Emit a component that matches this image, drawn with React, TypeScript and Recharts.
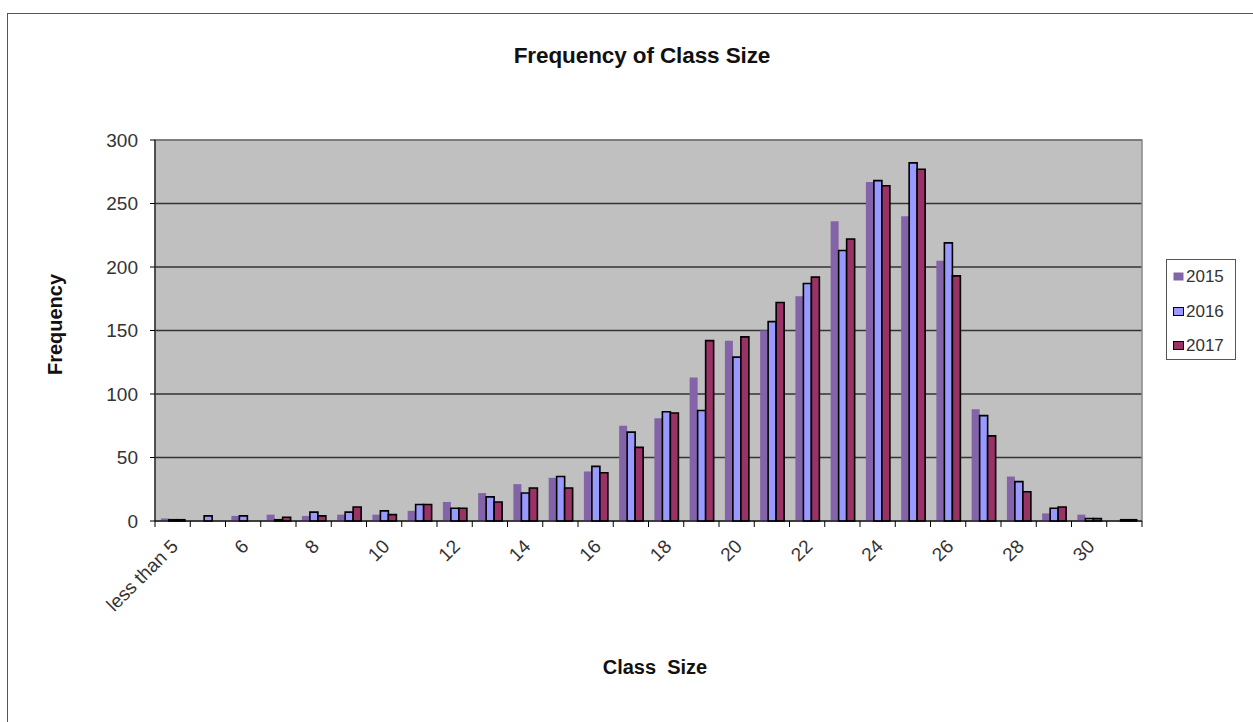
import React from 'react';
import { BarChart, Bar, XAxis, YAxis, CartesianGrid } from 'recharts';

const categories = [
  'less than 5', '5', '6', '7', '8', '9', '10', '11', '12', '13', '14', '15', '16', '17',
  '18', '19', '20', '21', '22', '23', '24', '25', '26', '27', '28', '29', '30', '31',
];
const values2015 = [2, 0, 4, 5, 4, 5, 5, 8, 15, 22, 29, 34, 39, 75, 81, 113, 142, 150, 177, 236, 267, 240, 205, 88, 35, 6, 5, 0];
const values2016 = [1, 4, 4, 1, 7, 7, 8, 13, 10, 19, 22, 35, 43, 70, 86, 87, 129, 157, 187, 213, 268, 282, 219, 83, 31, 10, 2, 1];
const values2017 = [1, 0, 0, 3, 4, 11, 5, 13, 10, 15, 26, 26, 38, 58, 85, 142, 145, 172, 192, 222, 264, 277, 193, 67, 23, 11, 2, 1];
const yTicks = [0, 50, 100, 150, 200, 250, 300];

const seriesColors = { s2015: '#8364a8', s2016: '#9999ff', s2017: '#993366' };

const data = categories.map((c, i) => ({
  name: c,
  s2015: values2015[i],
  s2016: values2016[i],
  s2017: values2017[i],
}));

const PLOT_LEFT = 155;
const PLOT_RIGHT = 1142;
const PLOT_TOP = 140;
const PLOT_BOTTOM = 521;
const BAND = (PLOT_RIGHT - PLOT_LEFT) / categories.length;
const FONT = 'Liberation Sans, Arial, sans-serif';

// Excel-style category axis: ticks between groups, labels on every other group
function CategoryTick(props: any) {
  const { x, y, index, payload } = props;
  const left = x - BAND / 2;
  return (
    <g>
      <line x1={left} y1={y - 8} x2={left} y2={y - 2} stroke="#000" />
      {index === categories.length - 1 && (
        <line x1={left + BAND} y1={y - 8} x2={left + BAND} y2={y - 2} stroke="#000" />
      )}
      {index % 2 === 0 && (
        <text
          x={x + 3}
          y={y + 15}
          transform={`rotate(-45, ${x + 3}, ${y + 15})`}
          textAnchor="end"
          fontSize={19}
          fontFamily={FONT}
          fill="#333"
          dominantBaseline="middle"
        >
          {payload.value}
        </text>
      )}
    </g>
  );
}

function LegendBox() {
  const items = [
    { key: '2015', color: seriesColors.s2015, stroke: 'none' },
    { key: '2016', color: seriesColors.s2016, stroke: '#000' },
    { key: '2017', color: seriesColors.s2017, stroke: '#000' },
  ];
  return (
    <div
      style={{
        position: 'absolute',
        left: 1166,
        top: 259,
        width: 70,
        height: 101,
        border: '1px solid #555',
        boxSizing: 'border-box',
        background: '#fff',
        fontFamily: FONT,
      }}
    >
      {items.map((it, i) => (
        <div
          key={it.key}
          style={{ position: 'absolute', left: 0, top: 6 + i * 34.5, height: 22, display: 'flex', alignItems: 'center' }}
        >
          <svg width={12} height={10} style={{ marginLeft: 6 }}>
            <rect x={0.5} y={0.5} width={10} height={8} fill={it.color} stroke={it.stroke} />
          </svg>
          <span style={{ fontSize: 17, color: '#333', marginLeft: 1 }}>{it.key}</span>
        </div>
      ))}
    </div>
  );
}

export default function App() {
  return (
    <div
      style={{
        position: 'fixed',
        left: 0,
        top: 0,
        width: 1253,
        height: 722,
        overflow: 'hidden',
        background: '#fff',
      }}
    >
      <div
        style={{
          position: 'absolute',
          left: 7,
          top: 13,
          width: 1300,
          height: 800,
          border: '1px solid #555',
        }}
      />
      <div
        style={{
          position: 'absolute',
          left: 642 - 300,
          width: 600,
          top: 43,
          textAlign: 'center',
          fontFamily: FONT,
          fontWeight: 'bold',
          fontSize: 22.5,
          letterSpacing: -0.1,
          color: '#111',
        }}
      >
        Frequency of Class Size
      </div>
      <div
        style={{
          position: 'absolute',
          left: 655 - 100,
          width: 200,
          top: 656,
          textAlign: 'center',
          fontFamily: FONT,
          fontWeight: 'bold',
          fontSize: 20,
          color: '#111',
          whiteSpace: 'pre',
        }}
      >
        {'Class  Size'}
      </div>
      <div
        style={{
          position: 'absolute',
          left: 55 - 100,
          top: 326 - 13,
          width: 200,
          textAlign: 'center',
          transform: 'rotate(-90deg)',
          fontFamily: FONT,
          fontWeight: 'bold',
          fontSize: 20,
          color: '#111',
        }}
      >
        Frequency
      </div>
      <div style={{ position: 'absolute', left: 0, top: 0 }}>
        <BarChart
          width={1253}
          height={722}
          data={data}
          margin={{ top: PLOT_TOP, left: PLOT_LEFT - 80, right: 1253 - PLOT_RIGHT, bottom: 722 - PLOT_BOTTOM - 60 }}
          barCategoryGap="16.7%"
          barGap={0}
        >
          <CartesianGrid vertical={false} stroke="#333" strokeWidth={1.4} fill="#c0c0c0" />
          <rect
            x={PLOT_LEFT}
            y={PLOT_TOP}
            width={PLOT_RIGHT - PLOT_LEFT}
            height={PLOT_BOTTOM - PLOT_TOP}
            fill="none"
            stroke="#888"
            strokeWidth={1.5}
          />
          <XAxis
            dataKey="name"
            interval={0}
            tickLine={false}
            tick={<CategoryTick />}
            axisLine={{ stroke: '#000' }}
            height={60}
          />
          <YAxis
            domain={[0, 300]}
            ticks={yTicks}
            interval={0}
            width={80}
            axisLine={{ stroke: '#000' }}
            tickLine={{ stroke: '#000' }}
            tickSize={5}
            tickMargin={12}
            tick={{ fontSize: 19, fill: '#333', fontFamily: FONT }}
          />
          <Bar dataKey="s2015" name="2015" fill={seriesColors.s2015} isAnimationActive={false} />
          <Bar dataKey="s2016" name="2016" fill={seriesColors.s2016} stroke="#000" strokeWidth={1.6} isAnimationActive={false} />
          <Bar dataKey="s2017" name="2017" fill={seriesColors.s2017} stroke="#000" strokeWidth={1.6} isAnimationActive={false} />
        </BarChart>
      </div>
      <LegendBox />
    </div>
  );
}
